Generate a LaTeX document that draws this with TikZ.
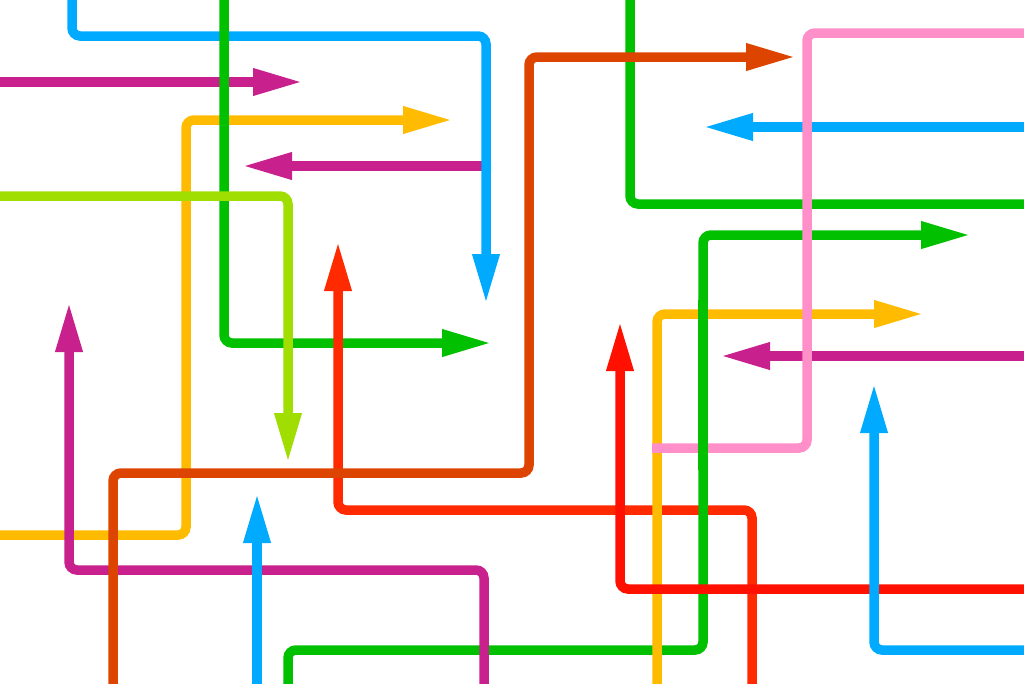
\documentclass[tikz,border=0pt]{standalone}
\usetikzlibrary{arrows.meta}

\definecolor{lineblue}{HTML}{00AAFF}
\definecolor{linemagenta}{HTML}{C8208C}
\definecolor{linegreen}{HTML}{00C000}
\definecolor{lineyellow}{HTML}{FFBB00}
\definecolor{linelime}{HTML}{A0DD00}
\definecolor{lineorange}{HTML}{DD4400}
\definecolor{linered}{HTML}{FF2A00}
\definecolor{linedeepred}{HTML}{FF1000}
\definecolor{linepink}{HTML}{FF8FC8}

\begin{document}
\begin{tikzpicture}[
			x=0.1mm, y=-0.1mm,
			track/.style={line width=0.95mm, rounded corners=0.8mm},
			arrow/.style={track, -{Triangle[length=5mm, width=2.5mm]}}
		]
			\useasboundingbox (0,0) rectangle (1024,683);
			\clip (0,0) rectangle (1024,683);

			% left half
			\draw[arrow, linemagenta] (-10,82) -- (303,82);
			\draw[arrow, linemagenta] (486,166) -- (242,166);
			\draw[arrow, lineblue] (72,-10) -- (72,36) -- (486,36) -- (486,304);
			\draw[arrow, lineyellow] (-10,535) -- (186,535) -- (186,120) -- (453,120);
			\draw[arrow, linegreen] (224,-10) -- (224,343) -- (492,343);
			\draw[arrow, linelime] (-10,196) -- (288,196) -- (288,463);
			\draw[arrow, linered] (752,700) -- (752,510) -- (338,510) -- (338,241);

			% right half
			\draw[track, linegreen] (630,-10) -- (630,204) -- (1040,204);
			\draw[arrow, linegreen] (288,700) -- (288,650) -- (703,650) -- (703,235) -- (971,235);
			\draw[arrow, lineyellow] (657,700) -- (657,314) -- (924,314);
			\draw[arrow, linemagenta] (484,700) -- (484,570) -- (69,570) -- (69,302);
			\draw[arrow, lineorange] (113,700) -- (113,473) -- (529,473) -- (529,57) -- (796,57);
			\draw[arrow, lineblue] (257,700) -- (257,493);
			\draw[arrow, linedeepred] (1040,589) -- (620,589) -- (620,321);
			\draw[arrow, lineblue] (1040,127) -- (703,127);
			\draw[arrow, linemagenta] (1040,356) -- (720,356);
			\draw[track, linepink] (1040,33) -- (807,33) -- (807,448) -- (652,448);
			\draw[track, linegreen] (703,300) -- (703,470);
			\draw[arrow, lineblue] (1040,650) -- (874,650) -- (874,383);
		\end{tikzpicture}
\end{document}
